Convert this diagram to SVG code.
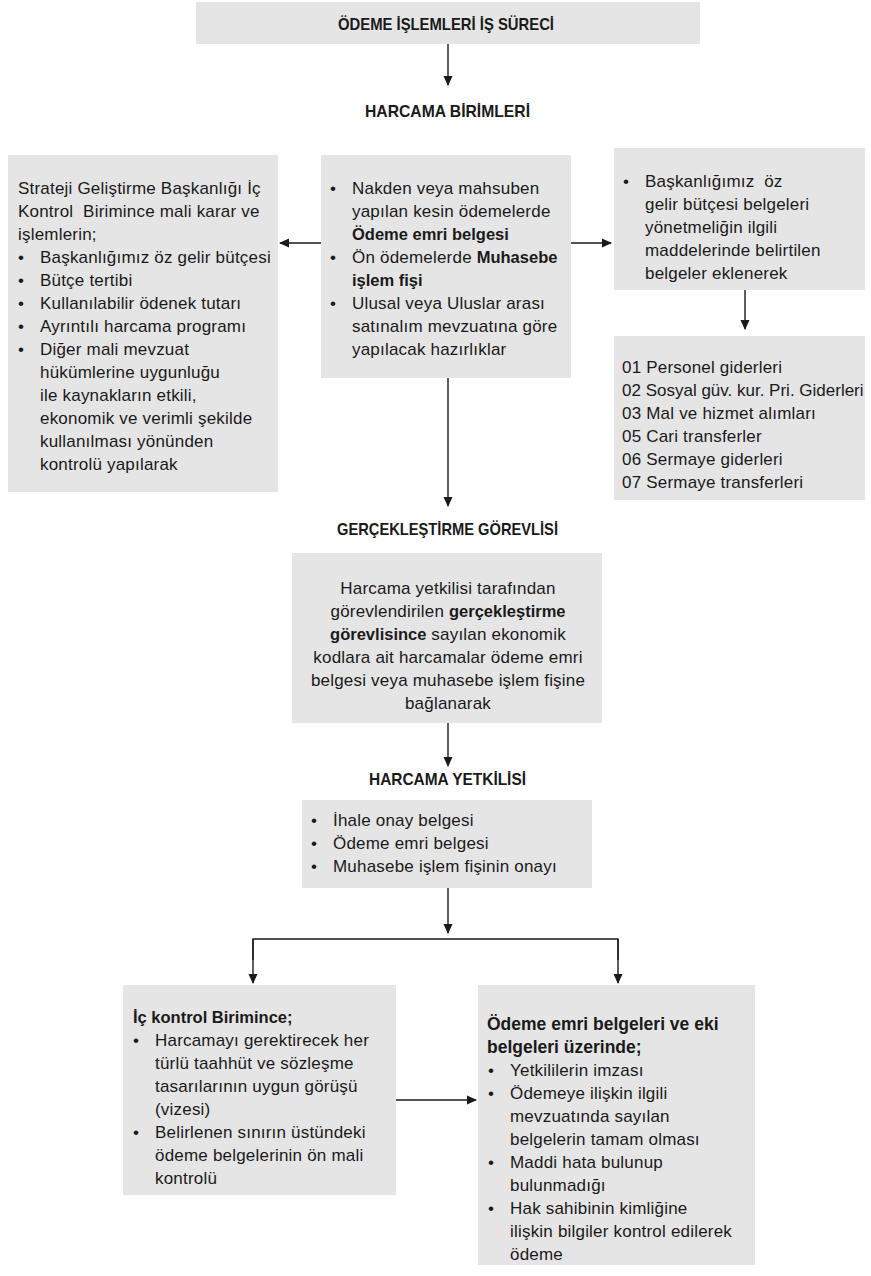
<svg xmlns="http://www.w3.org/2000/svg" width="871" height="1276" viewBox="0 0 871 1276">
<defs>
<marker id="ah" markerWidth="10" markerHeight="10" refX="9" refY="5" orient="auto" markerUnits="userSpaceOnUse">
<path d="M0,0.5 L10,5 L0,9.5 z" fill="#1a1a1a"/>
</marker>
</defs>
<style>
.box{fill:#e5e5e5;}
text{font-family:"Liberation Sans",Arial,sans-serif;font-size:17px;letter-spacing:0.2px;fill:#1a1a1a;}
.h{font-weight:bold;font-size:17px;letter-spacing:0;}
.b{font-weight:bold;font-size:16.5px;letter-spacing:0;}
.c{text-anchor:middle;}
.ln{stroke:#1a1a1a;stroke-width:1.4;fill:none;}
</style>
<rect width="871" height="1276" fill="#ffffff"/>

<g id="title">
<rect class="box" x="196" y="2" width="504" height="42"/>
<text class="h" x="338" y="30" textLength="216" lengthAdjust="spacingAndGlyphs">ÖDEME İŞLEMLERİ İŞ SÜRECİ</text>
</g>

<g id="harcama-birimleri">
<text class="h" x="365" y="117" textLength="165" lengthAdjust="spacingAndGlyphs">HARCAMA BİRİMLERİ</text>
</g>

<g id="left-box">
<rect class="box" x="8" y="155" width="270" height="337"/>
<text x="18" y="194">Strateji Geliştirme Başkanlığı İç</text>
<text x="18" y="217" xml:space="preserve">Kontrol  Birimince mali karar ve</text>
<text x="18" y="240">işlemlerin;</text>
<text x="18" y="263">•</text><text x="40" y="263">Başkanlığımız öz gelir bütçesi</text>
<text x="18" y="286">•</text><text x="40" y="286">Bütçe tertibi</text>
<text x="18" y="309">•</text><text x="40" y="309">Kullanılabilir ödenek tutarı</text>
<text x="18" y="332">•</text><text x="40" y="332">Ayrıntılı harcama programı</text>
<text x="18" y="355">•</text><text x="40" y="355">Diğer mali mevzuat</text>
<text x="40" y="378">hükümlerine uygunluğu</text>
<text x="40" y="401">ile kaynakların etkili,</text>
<text x="40" y="424">ekonomik ve verimli şekilde</text>
<text x="40" y="447">kullanılması yönünden</text>
<text x="40" y="470">kontrolü yapılarak</text>
</g>

<g id="center-box">
<rect class="box" x="321" y="155" width="250" height="223"/>
<text x="330" y="194">•</text><text x="352" y="194">Nakden veya mahsuben</text>
<text x="352" y="217">yapılan kesin ödemelerde</text>
<text x="352" y="240" class="b">Ödeme emri belgesi</text>
<text x="330" y="263">•</text><text x="352" y="263">Ön ödemelerde <tspan class="b">Muhasebe</tspan></text>
<text x="352" y="286" class="b">işlem fişi</text>
<text x="330" y="309">•</text><text x="352" y="309">Ulusal veya Uluslar arası</text>
<text x="352" y="332">satınalım mevzuatına göre</text>
<text x="352" y="355">yapılacak hazırlıklar</text>
</g>

<g id="right-box">
<rect class="box" x="614" y="148" width="251" height="142"/>
<text x="623" y="187">•</text><text x="645" y="187" xml:space="preserve">Başkanlığımız  öz</text>
<text x="645" y="210">gelir bütçesi belgeleri</text>
<text x="645" y="233">yönetmeliğin ilgili</text>
<text x="645" y="256">maddelerinde belirtilen</text>
<text x="645" y="279">belgeler eklenerek</text>
</g>

<g id="codes-box">
<rect class="box" x="614" y="336" width="251" height="164"/>
<text x="622" y="373">01 Personel giderleri</text>
<text x="622" y="396" style="letter-spacing:0">02 Sosyal güv. kur. Pri. Giderleri</text>
<text x="622" y="419">03 Mal ve hizmet alımları</text>
<text x="622" y="442">05 Cari transferler</text>
<text x="622" y="465">06 Sermaye giderleri</text>
<text x="622" y="488">07 Sermaye transferleri</text>
</g>

<g id="gerceklestirme-label">
<text class="h" x="337" y="535" textLength="221" lengthAdjust="spacingAndGlyphs">GERÇEKLEŞTİRME GÖREVLİSİ</text>
</g>

<g id="gerceklestirme-box">
<rect class="box" x="292" y="553" width="310" height="170"/>
<text class="c" x="448" y="594">Harcama yetkilisi tarafından</text>
<text class="c" x="448" y="617">görevlendirilen <tspan class="b">gerçekleştirme</tspan></text>
<text class="c" x="448" y="640"><tspan class="b">görevlisince</tspan> sayılan ekonomik</text>
<text class="c" x="448" y="663">kodlara ait harcamalar ödeme emri</text>
<text class="c" x="448" y="686">belgesi veya muhasebe işlem fişine</text>
<text class="c" x="448" y="709">bağlanarak</text>
</g>

<g id="harcama-yetkilisi-label">
<text class="h" x="369" y="785" textLength="157" lengthAdjust="spacingAndGlyphs">HARCAMA YETKİLİSİ</text>
</g>

<g id="harcama-yetkilisi-box">
<rect class="box" x="302" y="800" width="290" height="88"/>
<text x="311" y="826">•</text><text x="333" y="826">İhale onay belgesi</text>
<text x="311" y="849">•</text><text x="333" y="849">Ödeme emri belgesi</text>
<text x="311" y="872">•</text><text x="333" y="872">Muhasebe işlem fişinin onayı</text>
</g>

<g id="ic-kontrol-box">
<rect class="box" x="123" y="985" width="273" height="210"/>
<text x="133" y="1023" class="b">İç kontrol Birimince;</text>
<text x="133" y="1046">•</text><text x="155" y="1046">Harcamayı gerektirecek her</text>
<text x="155" y="1069">türlü taahhüt ve sözleşme</text>
<text x="155" y="1092">tasarılarının uygun görüşü</text>
<text x="155" y="1115">(vizesi)</text>
<text x="133" y="1138">•</text><text x="155" y="1138">Belirlenen sınırın üstündeki</text>
<text x="155" y="1161">ödeme belgelerinin ön mali</text>
<text x="155" y="1184">kontrolü</text>
</g>

<g id="odeme-emri-box">
<rect class="box" x="478" y="985" width="277" height="280"/>
<text x="487" y="1030" class="b" style="font-size:17.5px">Ödeme emri belgeleri ve eki</text>
<text x="487" y="1053" class="b" style="font-size:17.5px">belgeleri üzerinde;</text>
<text x="488" y="1076">•</text><text x="510" y="1076">Yetkililerin imzası</text>
<text x="488" y="1099">•</text><text x="510" y="1099">Ödemeye ilişkin ilgili</text>
<text x="510" y="1122">mevzuatında sayılan</text>
<text x="510" y="1145">belgelerin tamam olması</text>
<text x="488" y="1168">•</text><text x="510" y="1168">Maddi hata bulunup</text>
<text x="510" y="1191">bulunmadığı</text>
<text x="488" y="1214">•</text><text x="510" y="1214">Hak sahibinin kimliğine</text>
<text x="510" y="1237">ilişkin bilgiler kontrol edilerek</text>
<text x="510" y="1260">ödeme</text>
</g>

<g id="connectors">
<line class="ln" x1="448" y1="44" x2="448" y2="85" marker-end="url(#ah)"/>
<line class="ln" x1="321" y1="243" x2="280" y2="243" marker-end="url(#ah)"/>
<line class="ln" x1="571" y1="243" x2="611" y2="243" marker-end="url(#ah)"/>
<line class="ln" x1="745" y1="290" x2="745" y2="329" marker-end="url(#ah)"/>
<line class="ln" x1="448" y1="378" x2="448" y2="506" marker-end="url(#ah)"/>
<line class="ln" x1="448" y1="723" x2="448" y2="766" marker-end="url(#ah)"/>
<line class="ln" x1="448" y1="888" x2="448" y2="933" marker-end="url(#ah)"/>
<polyline class="ln" points="253,960 253,939 618,939 618,960"/>
<line class="ln" x1="253" y1="939" x2="253" y2="983" marker-end="url(#ah)"/>
<line class="ln" x1="618" y1="939" x2="618" y2="983" marker-end="url(#ah)"/>
<line class="ln" x1="396" y1="1100" x2="476" y2="1100" marker-end="url(#ah)"/>
</g>
</svg>
